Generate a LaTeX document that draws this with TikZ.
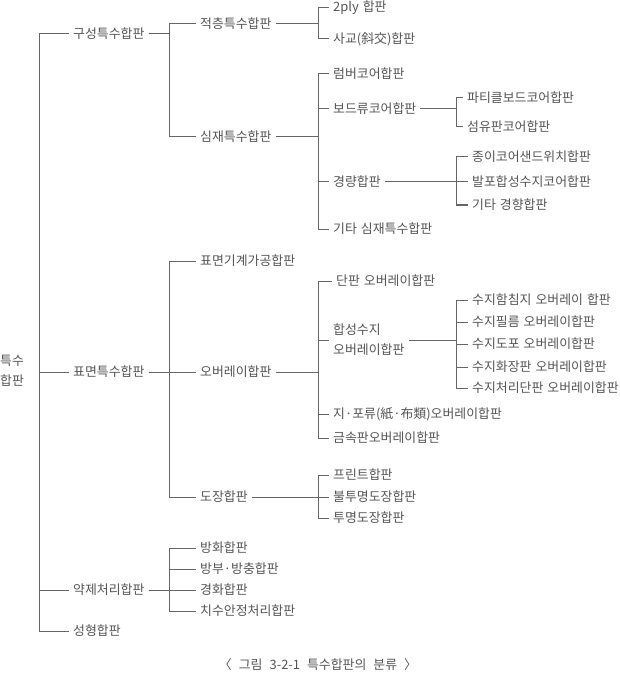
\documentclass[tikz,border=0pt]{standalone}
\usepackage{fontspec}
\setmainfont[WordSpace=1.4]{Noto Sans CJK KR}
\definecolor{txt}{HTML}{555555}
\definecolor{ln}{HTML}{666666}
\begin{document}
\begin{tikzpicture}[x=1pt,y=-1pt,
  lbl/.style={anchor=west,inner xsep=4pt,inner ysep=1pt,font=\fontsize{12.9}{20}\selectfont,text=txt},
  conn/.style={draw=ln,line width=1pt}]
\useasboundingbox (0,0) rectangle (619,676);
% junction columns
\coordinate (j1) at (39,0);
\coordinate (j2) at (169,0);
\coordinate (j3) at (318,0);
\coordinate (j4) at (456,0);
% root
\node[lbl,inner xsep=0pt,align=left] (R) at (0,371) {특수\\합판};
% level 1
\node[lbl] (A) at (69,34) {구성특수합판};
\node[lbl] (B) at (69,372) {표면특수합판};
\node[lbl] (C) at (69,590) {약제처리합판};
\node[lbl] (D) at (69,631) {성형합판};
% level 2
\node[lbl] (A1) at (196,24) {적층특수합판};
\node[lbl] (A2) at (196,137) {심재특수합판};
\node[lbl] (B1) at (196,261) {표면기계가공합판};
\node[lbl] (B2) at (196,372) {오버레이합판};
\node[lbl] (B3) at (196,497) {도장합판};
\node[lbl] (C1) at (196,548) {방화합판};
\node[lbl] (C2) at (196,569) {방부·방충합판};
\node[lbl] (C3) at (196,590) {경화합판};
\node[lbl] (C4) at (196,611) {치수안정처리합판};
% level 3
\node[lbl] (A11) at (329,8) {2ply 합판};
\node[lbl] (A12) at (329,39) {사교(斜交)합판};
\node[lbl] (A21) at (329,74) {럼버코어합판};
\node[lbl] (A22) at (329,109) {보드류코어합판};
\node[lbl] (A23) at (329,182) {경량합판};
\node[lbl] (A24) at (329,229) {기타 심재특수합판};
\node[lbl] (B21) at (332,281) {단판 오버레이합판};
\node[lbl,align=left] (B22) at (329,340) {합성수지\\오버레이합판};
\node[lbl] (B23) at (329,414) {지·포류(紙·布類)오버레이합판};
\node[lbl] (B24) at (329,438) {금속판오버레이합판};
\node[lbl] (B31) at (329,475) {프린트합판};
\node[lbl] (B32) at (329,497) {불투명도장합판};
\node[lbl] (B33) at (329,518) {투명도장합판};
% level 4
\node[lbl] (A221) at (463,98) {파티클보드코어합판};
\node[lbl] (A222) at (463,127) {섬유판코어합판};
\node[lbl] (A231) at (468,157) {종이코어샌드위치합판};
\node[lbl] (A232) at (468,182) {발포합성수지코어합판};
\node[lbl] (A233) at (468,205) {기타 경향합판};
\node[lbl] (B221) at (468,300) {수지함침지 오버레이 합판};
\node[lbl] (B222) at (468,322) {수지필름 오버레이합판};
\node[lbl] (B223) at (468,344) {수지도포 오버레이합판};
\node[lbl] (B224) at (468,367) {수지화장판 오버레이합판};
\node[lbl] (B225) at (468,388) {수지처리단판 오버레이합판};
% caption
\node[font=\fontsize{12.9}{14}\selectfont,text=txt] (cap) at (318,665) {〈\hspace{7pt}그림\hspace{7pt}3-2-1\hspace{7pt}특수합판의\hspace{7pt}분류\hspace{7pt}〉};
% ---- connectors ----
% level 1 trunk
\draw[conn] (j1|-A.west) -- (j1|-D.west);
\foreach \n in {A,B,C,D} \draw[conn] (j1|-\n.west) -- (\n.west);
% A -> A1, A2
\draw[conn] (A.east) -- (j2|-A.east);
\draw[conn] (j2|-A1.west) -- (j2|-A2.west);
\foreach \n in {A1,A2} \draw[conn] (j2|-\n.west) -- (\n.west);
% B -> B1..B3
\draw[conn] (B.east) -- (B2.west);
\draw[conn] (j2|-B1.west) -- (j2|-B3.west);
\foreach \n in {B1,B3} \draw[conn] (j2|-\n.west) -- (\n.west);
% C -> C1..C4
\draw[conn] (C.east) -- (j2|-C.east);
\draw[conn] (j2|-C1.west) -- (j2|-C4.west);
\foreach \n in {C1,C2,C3,C4} \draw[conn] (j2|-\n.west) -- (\n.west);
% A1 -> A11, A12
\draw[conn] (A1.east) -- (j3|-A1.east);
\draw[conn] (j3|-A11.west) -- (j3|-A12.west);
\foreach \n in {A11,A12} \draw[conn] (j3|-\n.west) -- (\n.west);
% A2 -> A21..A24
\draw[conn] (A2.east) -- (j3|-A2.east);
\draw[conn] (j3|-A21.west) -- (j3|-A24.west);
\foreach \n in {A21,A22,A23,A24} \draw[conn] (j3|-\n.west) -- (\n.west);
% B2 -> B21..B24
\draw[conn] (B2.east) -- (j3|-B2.east);
\draw[conn] (j3|-B21.west) -- (j3|-B24.west);
\foreach \n in {B21,B22,B23,B24} \draw[conn] (j3|-\n.west) -- (\n.west);
% B3 -> B31..B33
\draw[conn] (B3.east) -- (j3|-B3.east);
\draw[conn] (j3|-B31.west) -- (j3|-B33.west);
\foreach \n in {B31,B32,B33} \draw[conn] (j3|-\n.west) -- (\n.west);
% A22 -> A221, A222
\draw[conn] (A22.east) -- (j4|-A22.east);
\draw[conn] (j4|-A221.west) -- (j4|-A222.west);
\foreach \n in {A221,A222} \draw[conn] (j4|-\n.west) -- (\n.west);
% A23 -> A231..A233
\draw[conn] (A23.east) -- (j4|-A23.east);
\draw[conn] (j4|-A231.west) -- (j4|-A233.west);
\foreach \n in {A231,A232,A233} \draw[conn] (j4|-\n.west) -- (\n.west);
% B22 -> B221..B225
\draw[conn] (B22.east) -- (j4|-B22.east);
\draw[conn] (j4|-B221.west) -- (j4|-B225.west);
\foreach \n in {B221,B222,B223,B224,B225} \draw[conn] (j4|-\n.west) -- (\n.west);
\end{tikzpicture}
\end{document}
